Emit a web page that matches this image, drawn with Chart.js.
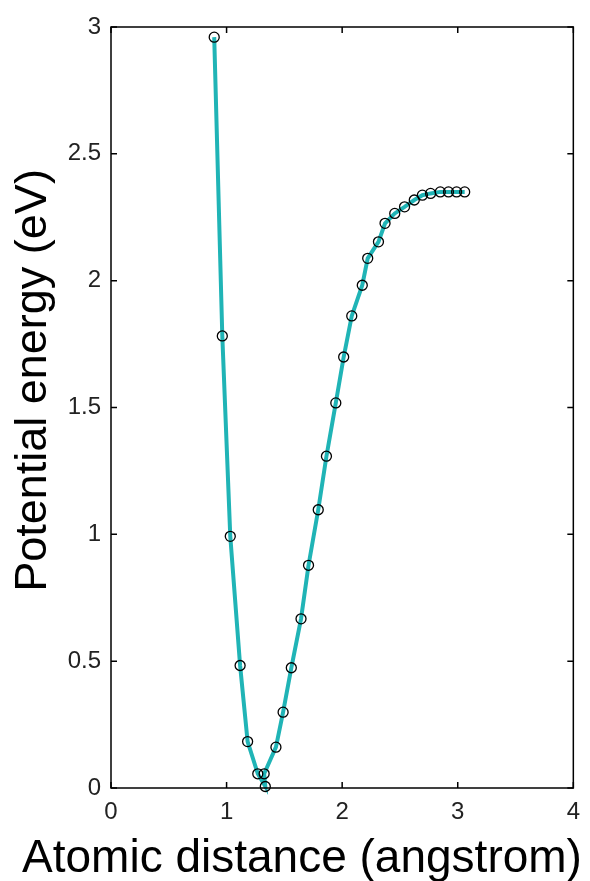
<!DOCTYPE html>
<html>
<head>
<meta charset="utf-8">
<script src="https://cdn.jsdelivr.net/npm/chart.js@4/dist/chart.umd.min.js"></script>
<style>
  html, body { margin: 0; padding: 0; background: #fff; }
  #wrap { width: 590px; height: 881px; }
</style>
</head>
<body>
<div id="wrap"><canvas id="c" width="590" height="881"></canvas></div>
<script>
// Atomic distance (angstrom) of each sample
const distance = [0.893, 0.963, 1.032, 1.117, 1.182, 1.270, 1.335, 1.325, 1.427, 1.489,
                  1.560, 1.644, 1.709, 1.793, 1.864, 1.945, 2.013, 2.083, 2.174, 2.221,
                  2.314, 2.371, 2.455, 2.540, 2.624, 2.694, 2.765, 2.849, 2.920, 2.990, 3.060];
// Potential energy (eV) at each distance
const energy = [2.960, 1.782, 0.992, 0.483, 0.183, 0.056, 0.006, 0.056, 0.161, 0.299,
                0.474, 0.667, 0.878, 1.097, 1.308, 1.518, 1.699, 1.861, 1.982, 2.088,
                2.153, 2.226, 2.265, 2.291, 2.318, 2.337, 2.344, 2.350, 2.350, 2.350, 2.350];
// Axis ticks
const xTicks = [0, 1, 2, 3, 4];
const yTicks = [0, 0.5, 1, 1.5, 2, 2.5, 3];
// Axis titles
const xTitle = 'Atomic distance (angstrom)';
const yTitle = 'Potential energy (eV)';

const points = distance.map((d, i) => ({ x: d, y: energy[i] }));

// Box around the plot with inward tick marks on all four sides
const boxTicks = {
  id: 'boxTicks',
  afterDatasetsDraw(chart) {
    const { ctx, chartArea: a, scales: { x, y } } = chart;
    const len = 6;
    ctx.save();
    ctx.strokeStyle = '#000';
    ctx.lineWidth = 1.5;
    ctx.strokeRect(a.left, a.top, a.right - a.left, a.bottom - a.top);
    ctx.beginPath();
    xTicks.forEach(v => {
      const px = x.getPixelForValue(v);
      ctx.moveTo(px, a.bottom); ctx.lineTo(px, a.bottom - len);
      ctx.moveTo(px, a.top); ctx.lineTo(px, a.top + len);
    });
    yTicks.forEach(v => {
      const py = y.getPixelForValue(v);
      ctx.moveTo(a.left, py); ctx.lineTo(a.left + len, py);
      ctx.moveTo(a.right, py); ctx.lineTo(a.right - len, py);
    });
    ctx.stroke();
    ctx.restore();
  }
};

// Axis titles, set out relative to the plot area
const axisTitles = {
  id: 'axisTitles',
  afterDraw(chart) {
    const { ctx, chartArea: a } = chart;
    ctx.save();
    ctx.fillStyle = '#000';
    ctx.font = '46px "Liberation Sans", Arial, sans-serif';
    ctx.textAlign = 'center';
    ctx.textBaseline = 'alphabetic';
    ctx.fillText(xTitle, 302, a.bottom + 84);
    ctx.font = '45px "Liberation Sans", Arial, sans-serif';
    ctx.translate(46, (a.top + a.bottom) / 2 - 27);
    ctx.rotate(-Math.PI / 2);
    ctx.fillText(yTitle, 0, 0);
    ctx.restore();
  }
};

const tickFont = { family: 'Liberation Sans', size: 24 };

new Chart(document.getElementById('c'), {
  type: 'scatter',
  data: {
    datasets: [
      {
        data: points,
        showLine: true,
        borderColor: 'rgb(32,180,182)',
        borderWidth: 4,
        pointRadius: 0,
        order: 2
      },
      {
        data: points,
        showLine: false,
        pointStyle: 'circle',
        pointRadius: 5,
        pointBorderWidth: 1.3,
        pointBorderColor: '#000',
        pointBackgroundColor: 'rgba(0,0,0,0)',
        order: 1
      }
    ]
  },
  options: {
    responsive: false,
    animation: false,
    devicePixelRatio: 1,
    clip: false,
    layout: { padding: { top: 27, right: 5, left: 0, bottom: 0 } },
    plugins: { legend: { display: false }, tooltip: { enabled: false } },
    scales: {
      x: {
        type: 'linear',
        min: 0, max: 4,
        afterBuildTicks: s => { s.ticks = xTicks.map(v => ({ value: v })); },
        afterFit: s => { s.height = 93; },
        grid: { display: false, drawTicks: false },
        border: { display: false },
        ticks: { font: tickFont, color: '#222', padding: 10, callback: v => String(v) }
      },
      y: {
        type: 'linear',
        min: 0, max: 3,
        afterBuildTicks: s => { s.ticks = yTicks.map(v => ({ value: v })); },
        afterFit: s => { s.width = 111; },
        grid: { display: false, drawTicks: false },
        border: { display: false },
        ticks: { font: tickFont, color: '#222', padding: 10, callback: v => String(v) }
      }
    }
  },
  plugins: [boxTicks, axisTitles]
});
</script>
</body>
</html>
